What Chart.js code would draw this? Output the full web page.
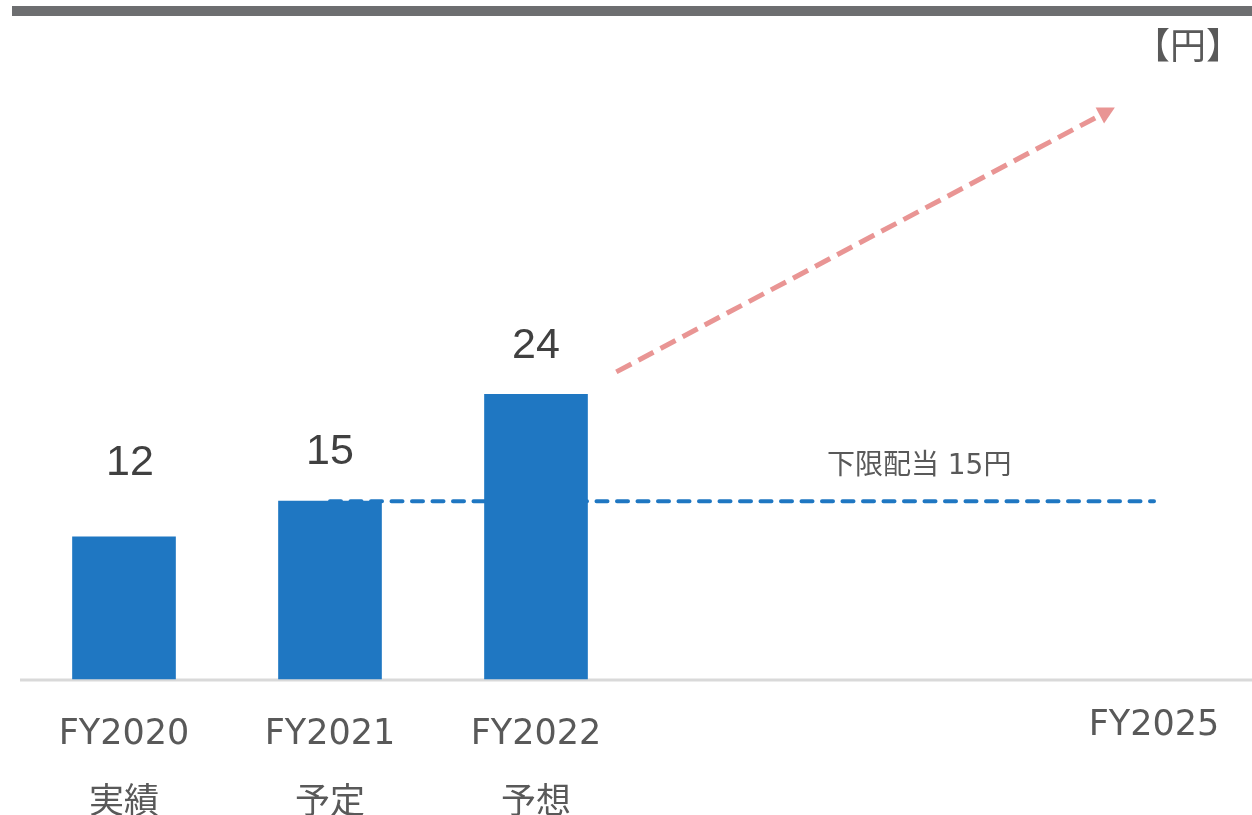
<!DOCTYPE html>
<html lang="ja">
<head>
<meta charset="utf-8">
<title>配当推移</title>
<script src="https://cdn.jsdelivr.net/npm/chart.js@4.4.1/dist/chart.umd.min.js"></script>
<style>
  html, body { margin: 0; padding: 0; background: #fff; overflow: hidden; }
  #wrap { position: relative; width: 1252px; height: 815px; }
  #topbar { position: absolute; left: 12px; right: 0; top: 6px; height: 10px; background: #6d6e70; }
</style>
</head>
<body>
<div id="wrap">
  <canvas id="chartDividend" width="1252" height="815"></canvas>
  <div id="topbar"></div>
</div>
<script>
const categories = ["FY2020", "FY2021", "FY2022", "FY2023", "FY2024", "FY2025"];
const subLabels = ["実績", "予定", "予想", "", "", ""];
const dividends = [12, 15, 24, null, null, null];
const floorDividend = [null, 15, 15, 15, 15, 15];
const floorLabel = "下限配当 15円";
const unitLabel = "【円】";
// growth arrow, [category position, value]
const arrowStart = [2.39, 25.9];
const arrowEnd = [4.81, 48.2];

const blue = "rgb(31, 119, 194)";
const textGray = "#595959";
const jpFont = "'DejaVu Sans', 'Noto Sans CJK JP', sans-serif";

const extras = {
    id: "extras",
    beforeDatasetsDraw(chart) {
        const ctx = chart.ctx;
        const y0 = chart.scales.y.getPixelForValue(0);
        ctx.save();
        ctx.strokeStyle = "#d9d9d9";
        ctx.lineWidth = 3;
        ctx.beginPath();
        ctx.moveTo(20, y0 + 1);
        ctx.lineTo(chart.width, y0 + 1);
        ctx.stroke();
        ctx.restore();
    },
    afterDatasetsDraw(chart) {
        const ctx = chart.ctx;
        const xs = chart.scales.x, ys = chart.scales.y;
        ctx.save();

        // values above bars
        const offsets = [[6, 74], [0, 49], [0, 48]];
        const meta = chart.getDatasetMeta(0);
        ctx.fillStyle = "#404040";
        ctx.font = "43px 'Liberation Sans', Arial, sans-serif";
        ctx.textAlign = "center";
        ctx.textBaseline = "middle";
        dividends.forEach((v, i) => {
            if (v === null) return;
            const bar = meta.data[i];
            const off = offsets[i] || [0, 48];
            ctx.fillText(String(v), bar.x + off[0], bar.y - off[1]);
        });

        // floor label
        ctx.fillStyle = textGray;
        ctx.font = "28px " + jpFont;
        ctx.fillText(floorLabel, xs.getPixelForValue(3.86), ys.getPixelForValue(15) - 34);

        // unit
        ctx.font = "36px 'Noto Sans CJK JP', sans-serif";
        ctx.fillText(unitLabel, chart.width - 64, 45);

        // FY2025 tick, set slightly higher than the others
        ctx.font = "35px " + jpFont;
        ctx.fillText(categories[5], xs.getPixelForValue(5), chart.chartArea.bottom + 47);

        // pink arrow
        const x1 = xs.getPixelForValue(arrowStart[0]), y1 = ys.getPixelForValue(arrowStart[1]);
        const x2 = xs.getPixelForValue(arrowEnd[0]), y2 = ys.getPixelForValue(arrowEnd[1]);
        const ang = Math.atan2(y2 - y1, x2 - x1);
        const headLen = 17, headW = 9;
        const bx = x2 - headLen * Math.cos(ang), by = y2 - headLen * Math.sin(ang);
        ctx.strokeStyle = "#e99594";
        ctx.fillStyle = "#e99594";
        ctx.lineWidth = 5;
        ctx.setLineDash([17, 8]);
        ctx.beginPath();
        ctx.moveTo(x1, y1);
        ctx.lineTo(bx, by);
        ctx.stroke();
        ctx.setLineDash([]);
        ctx.beginPath();
        ctx.moveTo(x2, y2);
        ctx.lineTo(bx + headW * Math.sin(ang), by - headW * Math.cos(ang));
        ctx.lineTo(bx - headW * Math.sin(ang), by + headW * Math.cos(ang));
        ctx.closePath();
        ctx.fill();

        ctx.restore();
    }
};

new Chart(document.getElementById("chartDividend"), {
    type: "bar",
    data: {
        labels: categories,
        datasets: [
            {
                label: "配当",
                data: dividends,
                backgroundColor: blue,
                barThickness: 103,
                clip: false,
                order: 1
            },
            {
                type: "line",
                label: "下限配当",
                data: floorDividend,
                borderColor: blue,
                borderWidth: 4,
                borderDash: [11, 9.5],
                borderCapStyle: "round",
                pointRadius: 0,
                fill: false,
                clip: false,
                order: 2
            }
        ]
    },
    options: {
        responsive: false,
        animation: false,
        layout: { padding: { left: 124, right: 98, top: 15, bottom: 0 } },
        plugins: {
            legend: { display: false },
            tooltip: { enabled: false }
        },
        scales: {
            x: {
                offset: false,
                grid: { display: false, drawTicks: false },
                border: { display: false },
                ticks: {
                    autoSkip: false,
                    maxRotation: 0,
                    padding: 21,
                    color: textGray,
                    font: { family: jpFont, size: 35, lineHeight: 1.97 },
                    callback: (v, i) => (i < 3 ? [categories[i], subLabels[i]] : "")
                },
                afterFit(scale) { scale.height = 136; }
            },
            y: {
                display: false,
                min: 0,
                max: 56
            }
        }
    },
    plugins: [extras]
});
</script>
</body>
</html>
